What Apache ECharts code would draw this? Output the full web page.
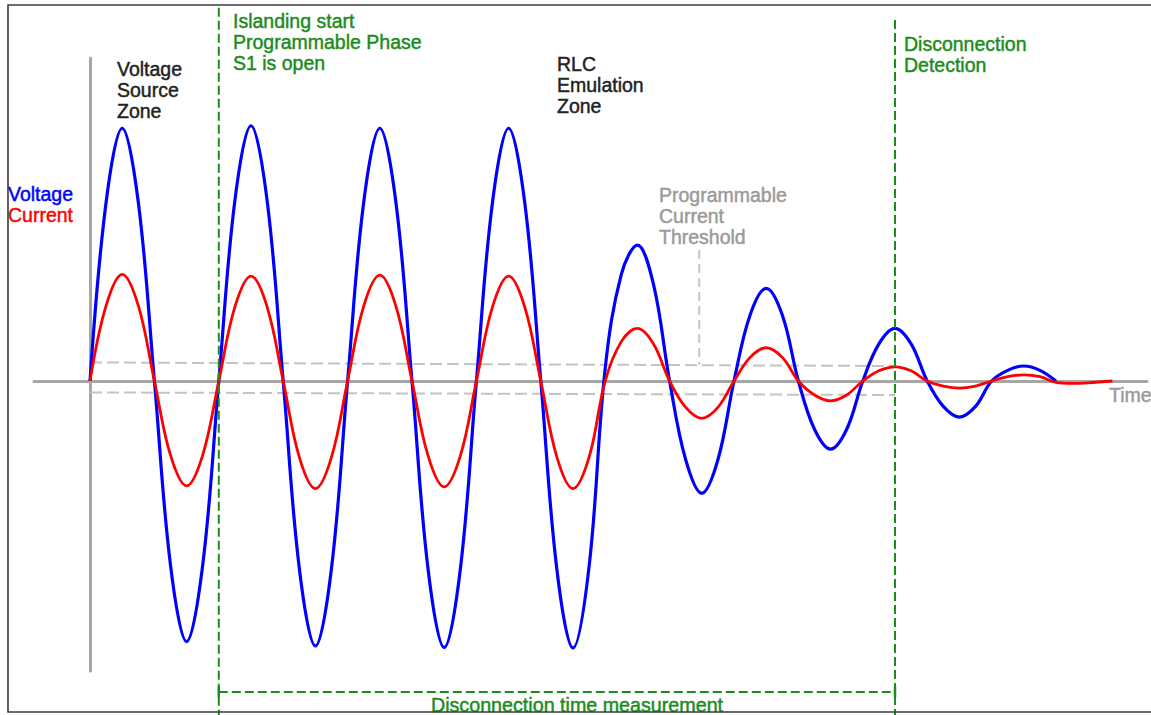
<!DOCTYPE html>
<html>
<head>
<meta charset="utf-8">
<script src="https://cdn.jsdelivr.net/npm/echarts@6/dist/echarts.min.js"></script>
<style>
html,body{margin:0;padding:0;background:#fff;}
#chart{width:1151px;height:715px;}
</style>
</head>
<body>
<div id="chart"></div>
<script>
// ---- data (time in ms, values in % of nominal peak voltage) ----
const timeMs = [0,2.5,5,7.5,10,12.5,15,17.5,20,22.5,25,27.5,30,32.5,35,37.5,40,42.5,45,47.5,50,52.5,55,57.5,60,62.5,65,67.5,70,72.5,75,77.5,80,82.5,85,87.5,90,92.5,95,97.5,100,102.5,105,107.5,110,112.5,115,117.5,120,122.5,125,127.5,130,132.5,135,137.5,140,142.5,145,147.5,150,152.5,155,158.75];
const voltage = [
  0, 70.4, 99.5, 70.4, 0, -72.5, -102.6, -72.5,
  0, 71.1, 100.5, 71.1, 0, -73.7, -104.3, -73.7,
  0, 70.4, 99.5, 70.4, 0, -74.2, -104.9, -74.2,
  0, 70.4, 99.5, 70.4, 0, -74.3, -105.1, -73,
  5, 42, 53.5, 38, 0, -31, -44.2, -31,
  0, 26, 36.5, 26, 0, -19, -26.8, -19,
  0, 14.6, 20.7, 14.6, 0, -10, -14.2, -10,
  0, 4.2, 5.9, 4.2, 0
];
const current = [
  0, 29.7, 42.0, 29.7, 0, -29.2, -41.3, -29.2,
  0, 29.2, 41.3, 29.2, 0, -30, -42.4, -30,
  0, 29.5, 41.7, 29.5, 0, -29.5, -41.7, -29.5,
  0, 29.2, 41.3, 29.2, 0, -30, -42.4, -30,
  0, 15.5, 20.7, 14.6, 0, -10.4, -14.7, -10.4,
  0, 9.3, 13.1, 9.3, 0, -5.5, -7.8, -5.5,
  0, 4, 5.6, 4, 0, -2, -2.8, -2,
  0, 1.7, 2.4, 1.7, -0.5, -0.9, -0.7, 0
];
const islandingStartMs = 20;
const detectionMs = 125;
const thresholdTimeMs = [0, 125];
const thresholdUpper = [7.3, 5.9];
const thresholdLower = [-4.5, -5.5];
const thresholdPointer = {timeMs: 94.6, from: 51.6, to: 6.5};
const markerTop = {islanding: 146.9, detection: 142.1};
const markerBottom = -131.5;
const measurementLevel = -122.4;

const labelsZone1 = ['Voltage', 'Source', 'Zone'];
const labelsIsland = ['Islanding start', 'Programmable Phase', 'S1 is open'];
const labelsRLC = ['RLC', 'Emulation', 'Zone'];
const labelsThreshold = ['Programmable', 'Current', 'Threshold'];
const labelsDetect = ['Disconnection', 'Detection'];
const legendNames = ['Voltage', 'Current'];
const axisName = 'Time';
const measurementLabel = 'Disconnection time measurement';

// ---- build ----
const zip = (xs, ys) => ys.map((y, i) => [xs[i], y]);
const GREEN = '#1c8c1c';
const FONT = '"Liberation Sans", Arial, Helvetica, sans-serif';
const FS = 19.5;

function textEl(lines, x, y, color) {
  return {
    type: 'text', x: x, y: y, z: 50,
    style: {
      text: lines.join('\n'), fill: color, font: FS + 'px ' + FONT,
      lineHeight: 21, verticalAlign: 'top', align: 'left',
      stroke: color, lineWidth: 0.45
    }
  };
}

const chart = echarts.init(document.getElementById('chart'), null, {renderer: 'svg'});
const axisStyle = {onZero: true, lineStyle: {color: '#a6a6a6', width: 3}};
chart.setOption({
  animation: false,
  backgroundColor: '#ffffff',
  grid: {left: 34, right: 4, top: 58, bottom: 44},
  xAxis: {
    type: 'value', min: -8.6957, max: 164.13,
    axisLine: axisStyle, axisTick: {show: false}, axisLabel: {show: false}, splitLine: {show: false}
  },
  yAxis: {
    type: 'value', min: -114.17, max: 127.165,
    axisLine: axisStyle, axisTick: {show: false}, axisLabel: {show: false}, splitLine: {show: false}
  },
  series: [
    {
      name: 'thresholdUpper', type: 'line', symbol: 'none', clip: false, z: 1,
      data: zip(thresholdTimeMs, thresholdUpper),
      lineStyle: {color: '#c4c4c4', width: 2, type: [12, 5]}
    },
    {
      name: 'thresholdLower', type: 'line', symbol: 'none', clip: false, z: 1,
      data: zip(thresholdTimeMs, thresholdLower),
      lineStyle: {color: '#c4c4c4', width: 2, type: [12, 5]}
    },
    {
      name: 'thresholdPointer', type: 'line', symbol: 'none', clip: false, z: 1,
      data: [[thresholdPointer.timeMs, thresholdPointer.from], [thresholdPointer.timeMs, thresholdPointer.to]],
      lineStyle: {color: '#c4c4c4', width: 2, type: [9, 5]}
    },
    {
      name: legendNames[0], type: 'line', symbol: 'none', smooth: 0.37, clip: false, z: 3,
      data: zip(timeMs, voltage),
      lineStyle: {color: '#0000ff', width: 3.2}
    },
    {
      name: legendNames[1], type: 'line', symbol: 'none', smooth: 0.37, clip: false, z: 4,
      data: zip(timeMs, current),
      lineStyle: {color: '#ff0000', width: 2.8}
    },
    {
      name: 'islanding', type: 'line', symbol: 'none', clip: false, z: 5,
      data: [[islandingStartMs, markerTop.islanding], [islandingStartMs, markerBottom]],
      lineStyle: {color: GREEN, width: 2, type: [9, 4]}
    },
    {
      name: 'detection', type: 'line', symbol: 'none', clip: false, z: 5,
      data: [[detectionMs, markerTop.detection], [detectionMs, markerBottom]],
      lineStyle: {color: GREEN, width: 2, type: [9, 4]}
    },
    {
      name: 'measurement', type: 'line', clip: false, z: 5,
      symbol: 'rect', symbolSize: [2.5, 11], showSymbol: true,
      itemStyle: {color: GREEN},
      data: [[islandingStartMs, measurementLevel], [detectionMs, measurementLevel]],
      lineStyle: {color: GREEN, width: 2, type: [9, 4]}
    }
  ],
  graphic: [
    textEl(labelsZone1, 117, 58, '#222222'),
    textEl(labelsIsland, 233, 10, GREEN),
    textEl(labelsRLC, 557, 53, '#222222'),
    textEl(labelsThreshold, 659, 184, '#9a9a9a'),
    textEl(labelsDetect, 904, 33, GREEN),
    textEl([legendNames[0]], 8, 183, '#0000ff'),
    textEl([legendNames[1]], 8, 204, '#ff0000'),
    textEl([axisName], 1109, 384, '#9a9a9a'),
    {
      type: 'text', x: 577, y: 714.5, z: 50,
      style: {
        text: measurementLabel, fill: GREEN, font: '19.7px ' + FONT,
        align: 'center', verticalAlign: 'bottom', stroke: GREEN, lineWidth: 0.45
      }
    },
    {
      type: 'rect', z: 100,
      shape: {x: 8, y: 5, width: 1200, height: 707},
      style: {fill: 'none', stroke: '#3c3c3c', lineWidth: 1.6}
    }
  ]
});
</script>
</body>
</html>
